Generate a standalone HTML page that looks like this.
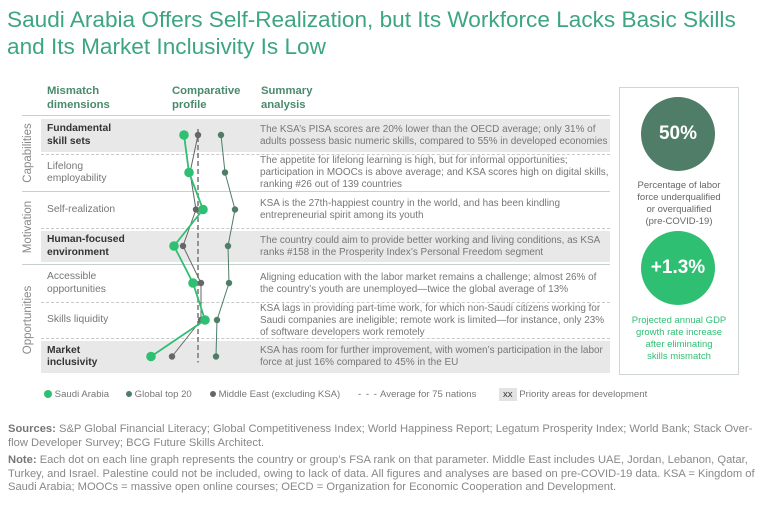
<!DOCTYPE html>
<html><head><meta charset="utf-8">
<style>
body{margin:0;width:768px;height:510px;background:#fff;font-family:"Liberation Sans",sans-serif;position:relative;overflow:hidden}
.abs{position:absolute}
.title{left:7px;top:6px;font-size:22.6px;line-height:27px;color:#3da582;white-space:nowrap}
.hdr{font-size:11.3px;font-weight:bold;color:#4a8a6c;line-height:13.5px}
.row{position:absolute;left:41px;width:569px}
.band{background:#e8e8e8}
.lbl{position:absolute;left:6px;font-size:10.3px;line-height:12.5px;color:#777}
.lbl.b{color:#333;font-weight:bold}
.sum{position:absolute;left:219px;font-size:9.95px;line-height:12px;color:#777;white-space:nowrap}
.cat{position:absolute;transform:rotate(-90deg);transform-origin:center;font-size:11.5px;color:#888;white-space:nowrap;text-align:center}
.foot{left:8px;font-size:11.2px;line-height:13.5px;color:#888;width:760px;white-space:nowrap}
.foot b{color:#777}
.leg{top:389px;font-size:9.6px;color:#777;white-space:nowrap}
</style></head><body>
<div class="abs title">Saudi Arabia Offers Self-Realization, but Its Workforce Lacks Basic Skills<br>and Its Market Inclusivity Is Low</div>

<div class="abs hdr" style="left:47px;top:85px">Mismatch<br>dimensions</div>
<div class="abs hdr" style="left:172px;top:85px">Comparative<br>profile</div>
<div class="abs hdr" style="left:261px;top:85px">Summary<br>analysis</div>
<div class="abs" style="left:22px;top:115px;width:588px;height:1px;background:#c8d0cc"></div>

<div id="rows"></div>

<div class="cat" style="left:-12px;top:147px;width:80px">Capabilities</div>
<div class="cat" style="left:-12px;top:221px;width:80px">Motivation</div>
<div class="cat" style="left:-22px;top:314px;width:100px">Opportunities</div>

<svg class="abs" id="chart" style="left:0;top:0" width="768" height="510"></svg>

<div class="abs" style="left:619px;top:87px;width:118px;height:286px;border:1px solid #cfd6d3"></div>
<div class="abs" style="left:641px;top:97px;width:74px;height:74px;border-radius:50%;background:#4f7d67;color:#fff;font-size:19px;font-weight:bold;text-align:center;line-height:74px">50%</div>
<div class="abs" style="left:621px;top:180px;width:116px;text-align:center;font-size:9.5px;line-height:12px;color:#666">Percentage of labor<br>force underqualified<br>or overqualified<br>(pre-COVID-19)</div>
<div class="abs" style="left:641px;top:231px;width:74px;height:74px;border-radius:50%;background:#2fbf73;color:#fff;font-size:19px;font-weight:bold;text-align:center;line-height:74px">+1.3%</div>
<div class="abs" style="left:621px;top:315px;width:116px;text-align:center;font-size:9.5px;line-height:12px;color:#2fbf73">Projected annual GDP<br>growth rate increase<br>after eliminating<br>skills mismatch</div>

<div class="abs leg" style="left:44px"><span style="display:inline-block;width:8px;height:8px;border-radius:50%;background:#2fbf73;vertical-align:-1px"></span> Saudi Arabia</div>
<div class="abs leg" style="left:126px"><span style="display:inline-block;width:6px;height:6px;border-radius:50%;background:#4f7d67;vertical-align:0px"></span> Global top 20</div>
<div class="abs leg" style="left:210px"><span style="display:inline-block;width:6px;height:6px;border-radius:50%;background:#666;vertical-align:0px"></span> Middle East (excluding KSA)</div>
<div class="abs leg" style="left:358px"><span style="letter-spacing:1px;color:#666">- - -</span> Average for 75 nations</div>
<div class="abs leg" style="left:499px"><span style="background:#e3e3e3;padding:1px 4px;color:#333">xx</span> Priority areas for development</div>

<div class="abs foot" style="top:423px"><b>Sources:</b> S&amp;P Global Financial Literacy; Global Competitiveness Index; World Happiness Report; Legatum Prosperity Index; World Bank; Stack Over-<br>flow Developer Survey; BCG Future Skills Architect.</div>
<div class="abs foot" style="top:454px"><b>Note:</b> Each dot on each line graph represents the country or group’s FSA rank on that parameter. Middle East includes UAE, Jordan, Lebanon, Qatar,<br>Turkey, and Israel. Palestine could not be included, owing to lack of data. All figures and analyses are based on pre-COVID-19 data. KSA = Kingdom of<br>Saudi Arabia; MOOCs = massive open online courses; OECD = Organization for Economic Cooperation and Development.</div>

<script>
const dimensions=["Fundamental skill sets","Lifelong employability","Self-realization","Human-focused environment","Accessible opportunities","Skills liquidity","Market inclusivity"];
const saudiValues=[44,49,63,34,53,65,11];
const middleEastValues=[58,50,56,43,61,61,32];
const globalTop20Values=[81,85,95,88,89,77,76];
const averageValue=58;

const labelsHtml=["Fundamental<br>skill sets","Lifelong<br>employability","Self-realization","Human-focused<br>environment","Accessible<br>opportunities","Skills liquidity","Market<br>inclusivity"];
const priority=[true,false,false,true,false,false,true];
const summaries=["The KSA’s PISA scores are 20% lower than the OECD average; only 31% of<br>adults possess basic numeric skills, compared to 55% in developed economies",
"The appetite for lifelong learning is high, but for informal opportunities;<br>participation in MOOCs is above average; and KSA scores high on digital skills,<br>ranking #26 out of 139 countries",
"KSA is the 27th-happiest country in the world, and has been kindling<br>entrepreneurial spirit among its youth",
"The country could aim to provide better working and living conditions, as KSA<br>ranks #158 in the Prosperity Index’s Personal Freedom segment",
"Aligning education with the labor market remains a challenge; almost 26% of<br>the country’s youth are unemployed—twice the global average of 13%",
"KSA lags in providing part-time work, for which non-Saudi citizens working for<br>Saudi companies are ineligible; remote work is limited—for instance, only 23%<br>of software developers work remotely",
"KSA has room for further improvement, with women’s participation in the labor<br>force at just 16% compared to 45% in the EU"];
const bounds=[116,154,191,228,264,302,338,375];
const solid=[false,true,false,true,false,false];

const rowsEl=document.getElementById('rows');
dimensions.forEach((d,i)=>{
  const top=bounds[i],h=bounds[i+1]-top;
  const r=document.createElement('div');
  r.className='row'+(priority[i]?' band':'');
  
  
  r.style.top=(top+3)+'px';r.style.height=(h-5)+'px';
  const lines=labelsHtml[i].split('<br>').length, sl=summaries[i].split('<br>').length;
  const l=document.createElement('div');
  l.className='lbl'+(priority[i]?' b':'');
  l.innerHTML=labelsHtml[i];
  l.style.top=((h-5)/2-lines*6.25)+'px';
  
  
  r.appendChild(l);
  const s=document.createElement('div');
  s.className='sum';s.innerHTML=summaries[i];
  s.style.top=((h-5)/2-sl*6)+'px';
  
  
  r.appendChild(s);
  rowsEl.appendChild(r);
  if(i<6){
    const ln=document.createElement('div');
    ln.className='abs';
    ln.style.cssText='left:'+(solid[i]?22:41)+'px;top:'+bounds[i+1]+'px;width:'+(solid[i]?588:569)+'px;height:0;border-top:1px '+(solid[i]?'solid #c8d0cc':'dashed #c8c8c8');
    
    
    rowsEl.appendChild(ln);
  }
});

const NS='http://www.w3.org/2000/svg';
const svg=document.getElementById('chart');
const xScale=v=>140+v;
const yScale=i=>(bounds[i]+bounds[i+1])/2;
function el(t,a){const e=document.createElementNS(NS,t);for(const k in a)e.setAttribute(k,a[k]);svg.appendChild(e);return e;}
const av=el('line',{x1:xScale(averageValue),x2:xScale(averageValue),y1:yScale(0)-6,y2:yScale(6)+6,stroke:'#777','stroke-width':1.5,'stroke-dasharray':'5,3'});


function series(vals,color,r,w,name){
  const p=el('polyline',{points:vals.map((v,i)=>xScale(v)+','+yScale(i)).join(' '),fill:'none',stroke:color,'stroke-width':w});
  
  
  vals.forEach((v,i)=>{
    const c=el('circle',{cx:xScale(v),cy:yScale(i),r:r,fill:color});
    
    
  });
}
series(globalTop20Values,'#4f7d67',3.2,1,'global-top-20');
series(middleEastValues,'#666',3.2,1,'middle-east');
series(saudiValues,'#2fbf73',4.8,1.8,'saudi-arabia');
</script>
</body></html>
